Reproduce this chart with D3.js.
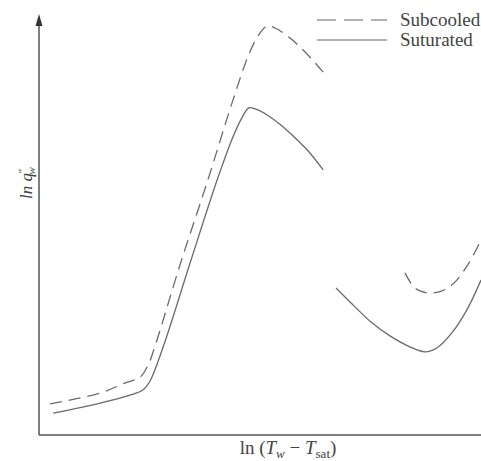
<!DOCTYPE html>
<html>
<head>
<meta charset="utf-8">
<script src="https://cdn.jsdelivr.net/npm/d3@7"></script>
<style>
  html, body { margin: 0; padding: 0; background: #fff; }
  svg { display: block; }
  text { font-family: "Liberation Serif", "Times New Roman", serif; fill: #444; }
</style>
</head>
<body>
<svg id="chart" width="481" height="461"></svg>
<script>
// Data (arbitrary log units)
const seriesNames = ["Subcooled", "Suturated"];

// Saturated boiling curve: nucleate branch + peak
const saturatedX1 = [0.32, 1.38, 2.06, 2.35, 2.51, 2.81, 3.42, 4.03, 4.39, 4.59, 4.75, 4.95, 5.16, 5.45, 5.75, 6.10, 6.43];
const saturatedY1 = [0.52, 0.76, 0.95, 1.07, 1.28, 2.10, 4.10, 6.07, 7.10, 7.55, 7.79, 7.74, 7.62, 7.40, 7.12, 6.75, 6.31];
// Saturated film branch
const saturatedX2 = [6.72, 7.15, 7.49, 7.94, 8.39, 8.73, 9.00, 9.34, 9.68, 10.00];
const saturatedY2 = [3.50, 3.05, 2.71, 2.36, 2.10, 1.98, 2.07, 2.43, 2.98, 3.69];

// Subcooled boiling curve
const subcooledX1 = [0.25, 1.38, 1.95, 2.29, 2.47, 2.62, 3.19, 3.82, 4.39, 4.77, 5.00, 5.16, 5.34, 5.68, 6.02, 6.43];
const subcooledY1 = [0.74, 1.00, 1.24, 1.38, 1.67, 2.10, 4.05, 6.07, 7.98, 9.12, 9.57, 9.74, 9.69, 9.45, 9.12, 8.64];
const subcooledX2 = [8.28, 8.46, 8.62, 8.85, 9.12, 9.41, 9.71, 10.00];
const subcooledY2 = [3.86, 3.55, 3.43, 3.38, 3.43, 3.64, 4.07, 4.64];

const svg = d3.select("#chart");
const W = 481, H = 461;
const margin = { left: 39, right: 0, top: 15, bottom: 26 };

const x = d3.scaleLinear().domain([0, 10]).range([margin.left, W - margin.right]);
const y = d3.scaleLinear().domain([0, 10]).range([H - margin.bottom, margin.top]);

const line = d3.line().x(d => x(d[0])).y(d => y(d[1])).curve(d3.curveCatmullRom.alpha(0.5));
const zip = (a, b) => a.map((v, i) => [v, b[i]]);

const curveColor = "#6a6a6a";

// Axes
const axisColor = "#555";
svg.append("line")
  .attr("x1", x(0)).attr("x2", x(0))
  .attr("y1", y(0)).attr("y2", y(10) + 8)
  .attr("stroke", axisColor).attr("stroke-width", 1.5);
svg.append("line")
  .attr("x1", x(0)).attr("x2", x(10))
  .attr("y1", y(0)).attr("y2", y(0))
  .attr("stroke", axisColor).attr("stroke-width", 1.5);
// arrow head on y axis
const ap = d3.path();
{
  const cx = x(0), top = y(10) - 1;
  ap.moveTo(cx, top);
  ap.lineTo(cx - 3.5, top + 12);
  ap.lineTo(cx + 3.5, top + 12);
  ap.closePath();
}
svg.append("path").attr("d", ap.toString()).attr("fill", "#333");

// Curves
const segs = [
  { d: zip(saturatedX1, saturatedY1), dash: null },
  { d: zip(saturatedX2, saturatedY2), dash: null },
  { d: zip(subcooledX1, subcooledY1), dash: "12,7" },
  { d: zip(subcooledX2, subcooledY2), dash: "12,7" }
];
svg.selectAll("path.curve").data(segs).enter().append("path")
  .attr("class", "curve")
  .attr("d", s => line(s.d))
  .attr("fill", "none")
  .attr("stroke", curveColor)
  .attr("stroke-width", 1.3)
  .attr("stroke-dasharray", s => s.dash);

// Legend
const legend = svg.append("g");
const legendItems = [
  { name: seriesNames[0], dash: "19,8", yy: 20 },
  { name: seriesNames[1], dash: null, yy: 40 }
];
legendItems.forEach(it => {
  legend.append("line")
    .attr("x1", 317).attr("x2", 387)
    .attr("y1", it.yy).attr("y2", it.yy)
    .attr("stroke", "#666").attr("stroke-width", 1.2)
    .attr("stroke-dasharray", it.dash);
  legend.append("text")
    .attr("x", 400).attr("y", it.yy + 6)
    .attr("font-size", 19)
    .text(it.name);
});

// X axis label: ln (T_w − T_sat)
const xl = svg.append("text")
  .attr("x", 288).attr("y", 454)
  .attr("text-anchor", "middle")
  .attr("font-size", 19);
xl.append("tspan").text("ln (");
xl.append("tspan").attr("font-style", "italic").text("T");
xl.append("tspan").attr("font-size", 13).attr("dy", 4).attr("font-style", "italic").text("w");
xl.append("tspan").attr("dy", -4).text(" − ");
xl.append("tspan").attr("font-style", "italic").text("T");
xl.append("tspan").attr("font-size", 13).attr("dy", 4).text("sat");
xl.append("tspan").attr("dy", -4).text(")");

// Y axis label: ln q''_w (rotated)
const yl = svg.append("text")
  .attr("transform", "translate(32," + 183 + ") rotate(-90)")
  .attr("text-anchor", "middle")
  .attr("font-size", 17)
  .attr("font-style", "italic");
yl.append("tspan").text("ln ");
yl.append("tspan").text("q");
yl.append("tspan").attr("font-size", 11).attr("dy", -6).attr("dx", -1).text("″");
yl.append("tspan").attr("font-size", 11).attr("dy", 9).attr("dx", -5).text("w");
</script>
</body>
</html>
